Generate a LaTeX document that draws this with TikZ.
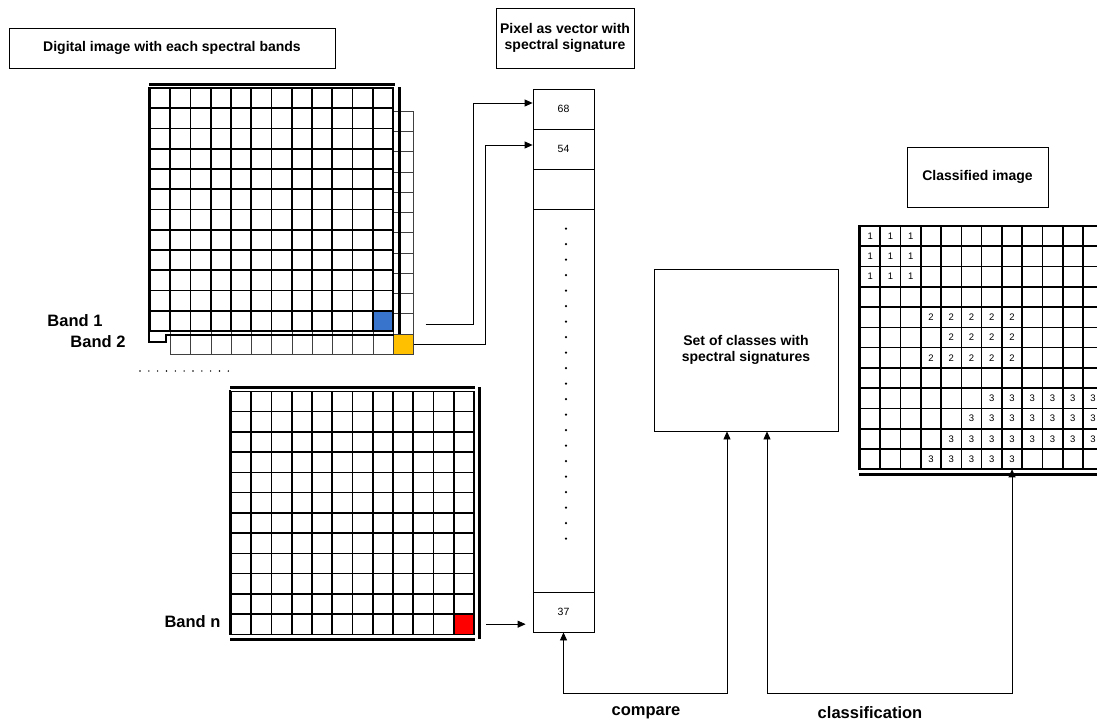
\documentclass[tikz,border=0pt]{standalone}
\usepackage{fontspec}
\setmainfont{Liberation Sans}
\usetikzlibrary{matrix}
\usetikzlibrary{positioning}
\usetikzlibrary{arrows.meta}
\definecolor{bandblue}{RGB}{56,116,203}
\definecolor{bandyellow}{RGB}{255,192,0}
\definecolor{bandred}{RGB}{255,0,0}

\begin{document}
\begin{tikzpicture}
  [x=1pt, y=-1pt,
   mat/.style={matrix of nodes, inner sep=0pt,
      nodes={draw, fill=white, line width=1.6pt, minimum size=20.25pt,
             inner sep=0pt, outer sep=0pt, anchor=center,
             font=\fontsize{9.5}{10}\selectfont},
      column sep=-1.6pt,
      row sep=-1.6pt,
      nodes in empty cells},
   faint/.style={nodes={draw=black!75, line width=0.8pt},
      column sep=-0.8pt, row sep=-0.8pt},
   hdr/.style={draw, line width=0.8pt, align=center, inner sep=0pt,
      font=\fontsize{14}{16.5}\selectfont\bfseries},
   lbl/.style={font=\fontsize{16.5}{18}\selectfont\bfseries},
   vcell/.style={draw, line width=0.8pt, minimum width=61pt, minimum height=40pt,
      inner sep=0pt, font=\fontsize{10.5}{12}\selectfont},
   rim/.style={line width=3pt},
   arr/.style={-{Triangle[length=8pt,width=7pt]}, line width=0.8pt},
   dblarr/.style={{Triangle[length=8pt,width=7pt]}-{Triangle[length=8pt,width=7pt]}, line width=0.8pt}]
  \useasboundingbox (0,0) rectangle (1097,721);

  % headers
  \node[hdr, minimum width=326pt, minimum height=40pt] (hdrbands) at (172,48)
       {Digital image with each spectral bands};
  \node[hdr, minimum width=138pt, minimum height=60pt] (hdrpixel) at (565,38)
       {Pixel as vector with\\spectral signature};
  \node[hdr, minimum width=141pt, minimum height=60pt] (hdrclass) at (977.5,177)
       {Classified image};

  % band 2 (behind band 1)
  \matrix[mat, faint, anchor=north west] (band2) at (170,110.7)
         {
           & & & & & & & & & & & \\
           & & & & & & & & & & & \\
           & & & & & & & & & & & \\
           & & & & & & & & & & & \\
           & & & & & & & & & & & \\
           & & & & & & & & & & & \\
           & & & & & & & & & & & \\
           & & & & & & & & & & & \\
           & & & & & & & & & & & \\
           & & & & & & & & & & & \\
           & & & & & & & & & & & \\
           & & & & & & & & & & & |[fill=bandyellow]| \\
         };

  % band 1
  \matrix[mat, anchor=north west] (band1) at (149,87)
         {
           & & & & & & & & & & & \\
           & & & & & & & & & & & \\
           & & & & & & & & & & & \\
           & & & & & & & & & & & \\
           & & & & & & & & & & & \\
           & & & & & & & & & & & \\
           & & & & & & & & & & & \\
           & & & & & & & & & & & \\
           & & & & & & & & & & & \\
           & & & & & & & & & & & \\
           & & & & & & & & & & & \\
           & & & & & & & & & & & |[fill=bandblue]| \\
         };
  \draw[rim] ([yshift=3pt]band1.north west) -- ([xshift=1pt,yshift=3pt]band1.north east);
  \draw[rim] ([xshift=5pt]band1.north east) -- ([xshift=5pt,yshift=-2pt]band1.south east);
  \draw[line width=2.5pt] (band1.north west) -- (band1.south west) -- ++(0,10)
       -- ++(17,0) -- ++(0,-7) -- ([yshift=-3pt]band1.south east);

  \node[lbl, anchor=east] (lblband1) at (106,321) {Band 1};
  \node[lbl, anchor=east] (lblband2) at (129,341.5) {Band 2};

  % more bands
  \foreach \i in {0,...,10}
    \fill (140+8.83*\i,371) circle (0.8pt);

  % band n
  \matrix[mat, anchor=north west] (bandn) at (230,390.3)
         {
           & & & & & & & & & & & \\
           & & & & & & & & & & & \\
           & & & & & & & & & & & \\
           & & & & & & & & & & & \\
           & & & & & & & & & & & \\
           & & & & & & & & & & & \\
           & & & & & & & & & & & \\
           & & & & & & & & & & & \\
           & & & & & & & & & & & \\
           & & & & & & & & & & & \\
           & & & & & & & & & & & \\
           & & & & & & & & & & & |[fill=bandred]| \\
         };
  \draw[rim] ([yshift=3pt]bandn.north west) -- ([yshift=3pt]bandn.north east);
  \draw[rim] ([xshift=4pt,yshift=3pt]bandn.north east) -- ([xshift=4pt,yshift=-4pt]bandn.south east);
  \draw[rim] ([yshift=-4pt]bandn.south west) -- ([yshift=-4pt]bandn.south east);
  \draw[line width=2.5pt] (bandn.north west) -- (bandn.south west);

  \node[lbl, anchor=east] (lblbandn) at (224,622) {Band n};

  % pixel vector
  \node[vcell] (v1) at (563.5,109) {68};
  \node[vcell, below=-0.8pt of v1] (v2) {54};
  \node[vcell, below=-0.8pt of v2] (v3) {};
  \node[vcell, below=-0.8pt of v3, minimum height=383pt] (v4) {};
  \node[vcell, below=-0.8pt of v4] (v5) {37};
  \foreach \i in {0,...,20}
    \fill ([xshift=2.5pt, yshift={-20pt-\i*15.5pt}]v4.north) circle (1.2pt);

  % classes
  \node[hdr, minimum width=184pt, minimum height=162pt] (classes) at (746,350)
       {Set of classes with\\spectral signatures};

  % classified image
  \matrix[mat, anchor=north west, nodes={minimum size=20.27pt}] (cls) at (859,225)
         {
           1 & 1 & 1 & & & & & & & & & \\
           1 & 1 & 1 & & & & & & & & & \\
           1 & 1 & 1 & & & & & & & & & \\
             & & & & & & & & & & & \\
             & & & 2 & 2 & 2 & 2 & 2 & & & & \\
             & & & & 2 & 2 & 2 & 2 & & & & \\
             & & & 2 & 2 & 2 & 2 & 2 & & & & \\
             & & & & & & & & & & & \\
             & & & & & & 3 & 3 & 3 & 3 & 3 & 3 \\
             & & & & & 3 & 3 & 3 & 3 & 3 & 3 & 3 \\
             & & & & 3 & 3 & 3 & 3 & 3 & 3 & 3 & 3 \\
             & & & 3 & 3 & 3 & 3 & 3 & & & & \\
         };
  \draw[line width=2.5pt] (cls.north west) -- (cls.south west);
  \draw[rim] ([yshift=-4pt]cls.south west) -- ([yshift=-4pt]cls.south east);

  % connectors
  \draw[arr] ([xshift=12pt]band2-11-12.east) -- ++(48,0) |- ([yshift=6pt]v1.west);
  \draw[arr] (band2-12-12.east) -- ++(72,0) |- ([yshift=4pt]v2.west);
  \draw[arr, shorten >=7pt] ([xshift=12pt]bandn-12-12.east) -- (v5.west |- bandn-12-12.east);
  \draw[dblarr] (v5.south) -- ++(0,61) -| ([xshift=-19pt]classes.south);
  \draw[dblarr] ([xshift=21pt]classes.south) -- ++(0,262) -| (cls-12-8.south);

  \node[lbl] (lblcompare) at (646,713) {compare};
  \node[lbl] (lblclassif) at (870,713) {classification};
\end{tikzpicture}
\end{document}
